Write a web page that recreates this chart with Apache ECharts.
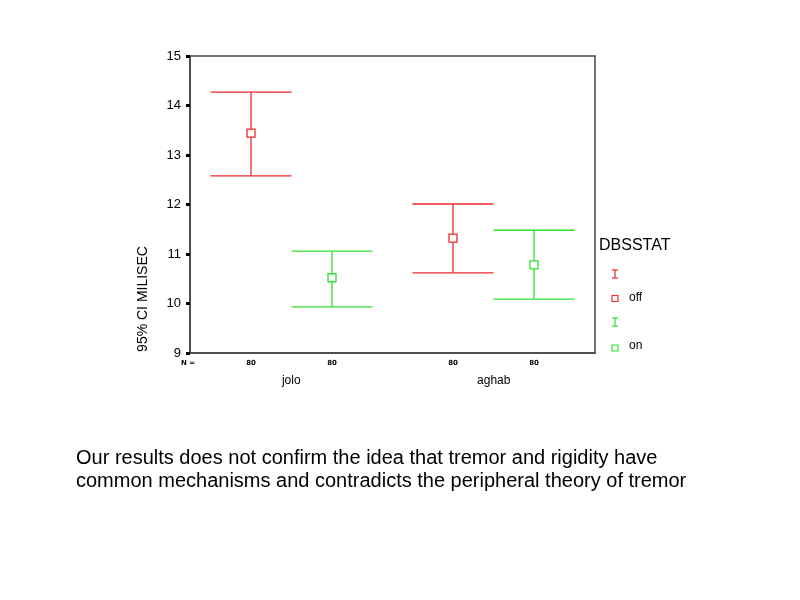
<!DOCTYPE html>
<html>
<head>
<meta charset="utf-8">
<script src="https://cdn.jsdelivr.net/npm/echarts@6/dist/echarts.min.js"></script>
<style>
html,body{margin:0;padding:0;background:#fff;}
#main{width:800px;height:600px;}
</style>
</head>
<body>
<div id="main"></div>
<script>
var categories = ['jolo', 'aghab'];
var groups = ['off', 'on'];
var offLow = [12.58, 10.62];
var offMean = [13.44, 11.32];
var offHigh = [14.27, 12.01];
var onLow = [9.93, 10.09];
var onMean = [10.52, 10.78];
var onHigh = [11.06, 11.48];
var offN = [80, 80];
var onN = [80, 80];
var yTicks = [9, 10, 11, 12, 13, 14, 15];

var RED = '#f02828';
var GREEN = '#30e030';

function makeData(low, mean, high, n) {
  return categories.map(function (c, i) { return [i, low[i], mean[i], high[i], n[i]]; });
}

function makeRender(sign, color) {
  return function (params, api) {
    var cat = api.value(0);
    var band = api.size([1, 0])[0];
    var off = sign * band * 0.2;
    var half = band * 0.2;
    var pLow = api.coord([cat, api.value(1)]);
    var pMean = api.coord([cat, api.value(2)]);
    var pHigh = api.coord([cat, api.value(3)]);
    var pBase = api.coord([cat, yTicks[0]]);
    var x = Math.round(pLow[0] + off);
    var s = 8;
    var st = { stroke: color, lineWidth: 1.3 };
    return {
      type: 'group',
      children: [
        { type: 'line', shape: { x1: x, y1: pHigh[1], x2: x, y2: pLow[1] }, style: st },
        { type: 'line', shape: { x1: x - half, y1: pHigh[1], x2: x + half, y2: pHigh[1] }, style: st },
        { type: 'line', shape: { x1: x - half, y1: pLow[1], x2: x + half, y2: pLow[1] }, style: st },
        { type: 'rect', shape: { x: x - s / 2, y: pMean[1] - s / 2, width: s, height: s }, style: { stroke: color, fill: '#fff', lineWidth: 1.3 } },
        { type: 'text', style: { text: String(api.value(4)), x: x, y: pBase[1] + 10, textAlign: 'center', textVerticalAlign: 'middle', fill: '#000', font: 'bold 7px "DejaVu Sans"' } }
      ]
    };
  };
}

function ibar(cx, cy, color) {
  return { type: 'group', x: cx, y: cy, children: [
    { type: 'line', shape: { x1: 0, y1: -4, x2: 0, y2: 4 }, style: { stroke: color, lineWidth: 1.2 } },
    { type: 'line', shape: { x1: -3, y1: -4, x2: 3, y2: -4 }, style: { stroke: color, lineWidth: 1.2 } },
    { type: 'line', shape: { x1: -3, y1: 4, x2: 3, y2: 4 }, style: { stroke: color, lineWidth: 1.2 } }
  ]};
}

var chart = echarts.init(document.getElementById('main'));
chart.setOption({
  backgroundColor: '#fff',
  animation: false,
  grid: { left: 190, right: 205, top: 56, bottom: 247, show: true, borderColor: '#444', borderWidth: 1.5, backgroundColor: 'transparent' },
  xAxis: {
    type: 'category',
    data: categories,
    axisLine: { lineStyle: { color: '#444', width: 1.5 } },
    axisTick: { alignWithLabel: true, length: 3, lineStyle: { color: '#000', width: 3 } },
    axisLabel: { margin: 22, color: '#000', fontSize: 12, fontFamily: 'Liberation Sans' }
  },
  yAxis: {
    type: 'value',
    min: yTicks[0], max: yTicks[yTicks.length - 1], interval: 1,
    axisLine: { show: true, lineStyle: { color: '#444', width: 1.5 } },
    axisTick: { show: true, length: 4, lineStyle: { color: '#000', width: 3 } },
    axisLabel: { color: '#000', fontSize: 13, fontFamily: 'Liberation Sans', margin: 9 },
    splitLine: { show: false }
  },
  series: [
    { name: groups[0], type: 'custom', renderItem: makeRender(-1, RED), data: makeData(offLow, offMean, offHigh, offN), encode: { x: 0, y: [1, 2, 3] } },
    { name: groups[1], type: 'custom', renderItem: makeRender(1, GREEN), data: makeData(onLow, onMean, onHigh, onN), encode: { x: 0, y: [1, 2, 3] } }
  ],
  graphic: [
    { type: 'text', x: 143, y: 299, rotation: Math.PI / 2, style: { text: '95% CI MILISEC', textAlign: 'center', textVerticalAlign: 'middle', fill: '#000', font: '14px "Liberation Sans"' } },
    { type: 'text', x: 181, y: 363, style: { text: 'N =', textVerticalAlign: 'middle', fill: '#000', font: 'bold 7px "DejaVu Sans"' } },
    { type: 'text', x: 599, y: 246, style: { text: 'DBSSTAT', textVerticalAlign: 'middle', fill: '#000', font: '16px "Liberation Sans"' } },
    ibar(615, 274, RED),
    { type: 'rect', shape: { x: 612, y: 295.5, width: 6, height: 6 }, style: { stroke: RED, fill: '#fff', lineWidth: 1.2 } },
    { type: 'text', x: 629, y: 298, style: { text: groups[0], textVerticalAlign: 'middle', fill: '#000', font: '12px "Liberation Sans"' } },
    ibar(615, 322, GREEN),
    { type: 'rect', shape: { x: 612, y: 345, width: 6, height: 6 }, style: { stroke: GREEN, fill: '#fff', lineWidth: 1.2 } },
    { type: 'text', x: 629, y: 346, style: { text: groups[1], textVerticalAlign: 'middle', fill: '#000', font: '12px "Liberation Sans"' } },
    { type: 'text', x: 76, y: 458, style: { text: 'Our results does not confirm the idea that tremor and rigidity have', textVerticalAlign: 'middle', fill: '#000', font: '20px "Liberation Sans"' } },
    { type: 'text', x: 76, y: 481, style: { text: 'common mechanisms and contradicts the peripheral theory of tremor', textVerticalAlign: 'middle', fill: '#000', font: '20px "Liberation Sans"' } }
  ]
});
</script>
</body>
</html>
